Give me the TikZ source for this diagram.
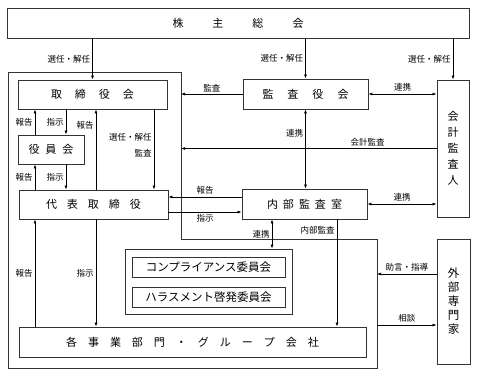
\documentclass[tikz,border=0pt]{standalone}
\usepackage{fontspec}
\setmainfont{Noto Sans CJK JP}
\usetikzlibrary{arrows.meta}

\begin{document}
\begin{tikzpicture}[
  x=1pt, y=-1pt,
  box/.style={rectangle, draw=black!80, line width=0.8pt, inner sep=0pt,
    font=\fontsize{11}{13}\selectfont},
  lab/.style={font=\fontsize{8.5}{16}\selectfont, inner sep=2pt},
  arr/.style={-{Latex[length=4pt,width=3pt]}, line width=0.7pt},
  arrboth/.style={{Latex[length=4pt,width=3pt]}-{Latex[length=4pt,width=3pt]}, line width=0.7pt}
]
\useasboundingbox (0,0) rectangle (477,376);

% frame of the company
\coordinate (f1) at (8,72);
\coordinate (f2) at (181,72);
\coordinate (f3) at (181,239);
\coordinate (f4) at (377,239);
\coordinate (f5) at (377,368);
\coordinate (f6) at (8,368);
\draw[draw=black!80, line width=0.8pt] (f1) -- (f2) -- (f3) -- (f4) -- (f5) -- (f6) -- cycle;

% x and y of the offset lines
\coordinate (xh) at (35,0);
\coordinate (xs) at (66,0);
\coordinate (xr) at (96,0);
\coordinate (xk) at (154,0);
\coordinate (xn) at (272,0);
\coordinate (xi) at (337,0);
\coordinate (yh) at (0,197);
\coordinate (ys) at (0,212);
\coordinate (yj) at (0,274);
\coordinate (yd) at (0,325);

\node[box, minimum width=462, minimum height=30] (soukai) at (238,23)
  {株\hspace{29pt}主\hspace{29pt}総\hspace{29pt}会};
\node[box, minimum width=149, minimum height=29] (torishimari) at (92.5,94.5)
  {取\hspace{13pt}締\hspace{13pt}役\hspace{13pt}会};
\node[box, minimum width=66, minimum height=29] (yakuin) at (51,149.5)
  {役\hspace{6pt}員\hspace{6pt}会};
\node[box, minimum width=149, minimum height=29] (daihyo) at (93.5,204.5)
  {代\hspace{10pt}表\hspace{10pt}取\hspace{10pt}締\hspace{10pt}役};
\node[box, minimum width=125, minimum height=30] (kansa) at (305.5,94)
  {監\hspace{14pt}査\hspace{14pt}役\hspace{14pt}会};
\node[box, minimum width=32, minimum height=137, align=center,
  font=\fontsize{11}{16}\selectfont] (kaikei) at (453,148.5)
  {会\\計\\監\\査\\人};
\node[box, minimum width=125, minimum height=30] (naibu) at (304.5,204)
  {内\hspace{5pt}部\hspace{5pt}監\hspace{5pt}査\hspace{5pt}室};
\node[box, minimum width=33, minimum height=125, align=center,
  font=\fontsize{11.5}{14}\selectfont] (gaibu) at (453.5,301.5)
  {外\\部\\専\\門\\家};
\node[box, minimum width=167, minimum height=65] (iinkai) at (208.5,281.5) {};
\node[box, minimum width=153, minimum height=20, font=\fontsize{11.5}{13}\selectfont]
  (compliance) at (208.5,267) {コンプライアンス委員会};
\node[box, minimum width=153, minimum height=20, font=\fontsize{11.5}{13}\selectfont]
  (harassment) at (208.5,297) {ハラスメント啓発委員会};
\node[box, minimum width=347, minimum height=30] (jigyou) at (192.5,342)
  {各\hspace{11pt}事\hspace{11pt}業\hspace{11pt}部\hspace{11pt}門\hspace{11pt}・\hspace{11pt}グ\hspace{11pt}ル\hspace{11pt}ー\hspace{11pt}プ\hspace{11pt}会\hspace{11pt}社};

% shareholders
\draw[arr] (soukai.south -| torishimari) -- (torishimari.north)
  node[midway, left, lab] {選任・解任};
\draw[arr] (soukai.south -| kansa) -- (kansa.north)
  node[midway, left, lab] {選任・解任};
\draw[arr] (soukai.south -| kaikei) -- (kaikei.north)
  node[midway, left, lab] {選任・解任};

% auditors
\draw[arr] (kansa.west) -- (kansa.west -| f2)
  node[midway, above, lab] {監査};
\draw[arrboth] (kansa.east) -- (kansa.east -| kaikei.west)
  node[midway, above, lab] {連携};
\draw[arrboth] (kansa.south) -- (kansa.south |- naibu.north)
  node[pos=0.3, left, lab] {連携};
\draw[arr] (kaikei.west) -- (kaikei.west -| f2)
  node[pos=0.27, above, lab] {会計監査};

% board
\draw[arr] (yakuin.north -| xh) -- (torishimari.south -| xh)
  node[midway, left, lab] {報告};
\draw[arr] (torishimari.south -| xs) -- (yakuin.north -| xs)
  node[midway, left, lab] {指示};
\draw[arr] (daihyo.north -| xr) -- (torishimari.south -| xr)
  node[pos=0.8, left, lab] {報告};
\draw[arr] (torishimari.south -| xk) -- (daihyo.north -| xk)
  node[pos=0.45, left, lab, align=right] {選任・解任\\監査};
\draw[arr] (daihyo.north -| xh) -- (yakuin.south -| xh)
  node[midway, left, lab] {報告};
\draw[arr] (yakuin.south -| xs) -- (daihyo.north -| xs)
  node[midway, left, lab] {指示};

% internal audit
\draw[arr] (naibu.west |- yh) -- (daihyo.east |- yh)
  node[midway, above, lab] {報告};
\draw[arr] (daihyo.east |- ys) -- (naibu.west |- ys)
  node[midway, below, lab] {指示};
\draw[arrboth] (naibu.east) -- (naibu.east -| kaikei.west)
  node[midway, above, lab] {連携};
\draw[arrboth] (naibu.south -| xn) -- (iinkai.north -| xn)
  node[midway, left, lab] {連携};
\draw[arr] (naibu.south -| xi) -- (jigyou.north -| xi)
  node[pos=0.1, left, lab] {内部監査};

% business units
\draw[arr] (daihyo.south -| xr) -- (jigyou.north -| xr)
  node[midway, left, lab] {指示};
\draw[arr] (jigyou.north -| xh) -- (daihyo.south -| xh)
  node[midway, left, lab] {報告};

% outside experts
\draw[arr] (gaibu.west |- yj) -- (f4 |- yj)
  node[midway, above, lab] {助言・指導};
\draw[arr] (f4 |- yd) -- (gaibu.west |- yd)
  node[midway, above, lab] {相談};

\end{tikzpicture}
\end{document}
